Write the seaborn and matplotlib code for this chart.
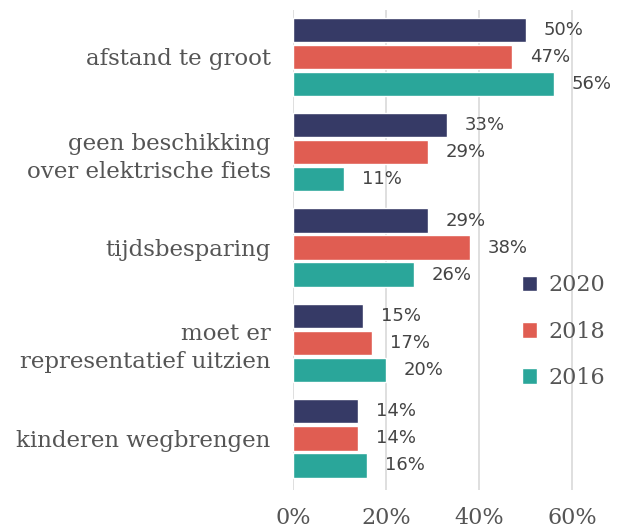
import numpy as np
import pandas as pd
import matplotlib
matplotlib.use("Agg")
import matplotlib.pyplot as plt
import seaborn as sns

# data
categories = [
    "afstand te groot",
    "geen beschikking\nover elektrische fiets",
    "tijdsbesparing",
    "moet er\nrepresentatief uitzien",
    "kinderen wegbrengen",
]
years = ["2020", "2018", "2016"]
values_2020 = [50, 33, 29, 15, 14]
values_2018 = [47, 29, 38, 17, 14]
values_2016 = [56, 11, 26, 20, 16]
colors = ["#363a66", "#e05d52", "#2aa69a"]
xticks = [0, 20, 40, 60]

df = pd.DataFrame({
    "category": categories * 3,
    "year": [y for y in years for _ in categories],
    "value": values_2020 + values_2018 + values_2016,
})

sns.set_style("white")
text_grey = "#555555"

fig = plt.figure(figsize=(6.18, 5.29), dpi=100)
ax = fig.add_axes([0.474, 0.074, 0.497, 0.907])

sns.barplot(data=df, y="category", x="value", hue="year", hue_order=years,
            palette=colors, orient="h", width=0.85, gap=0.1, ax=ax,
            saturation=1, legend=True)

# value labels
for cont in ax.containers:
    ax.bar_label(cont, labels=[f"{v:.0f}%" for v in cont.datavalues],
                 padding=13, fontsize=13, color="#444444",
                 fontfamily="DejaVu Sans")

ax.set_xlim(0, 66)
ax.set_ylim(4.54, -0.49)
ax.set_xticks(xticks)
ax.set_xticklabels([f"{t}%" for t in xticks], fontfamily="DejaVu Serif",
                   fontsize=16, color=text_grey)
ax.set_yticks(range(len(categories)))
ax.set_yticklabels(categories, fontfamily="DejaVu Serif", fontsize=16.5,
                   color=text_grey, linespacing=1.35)
ax.tick_params(axis="both", length=0)
ax.tick_params(axis="y", pad=16)
ax.tick_params(axis="x", pad=12)
ax.set_xlabel("")
ax.set_ylabel("")
ax.xaxis.grid(True, color="#d9d9d9", linewidth=1.2)
ax.set_axisbelow(True)
for s in ax.spines.values():
    s.set_visible(False)

leg = ax.legend(loc="center left", bbox_to_anchor=(0.68, 0.33), frameon=False,
                handlelength=0.7, handleheight=0.7, handletextpad=0.5,
                labelspacing=1.1, prop={"family": "DejaVu Serif", "size": 16})
for t in leg.get_texts():
    t.set_color(text_grey)

fig.savefig("out.png", dpi=100)
